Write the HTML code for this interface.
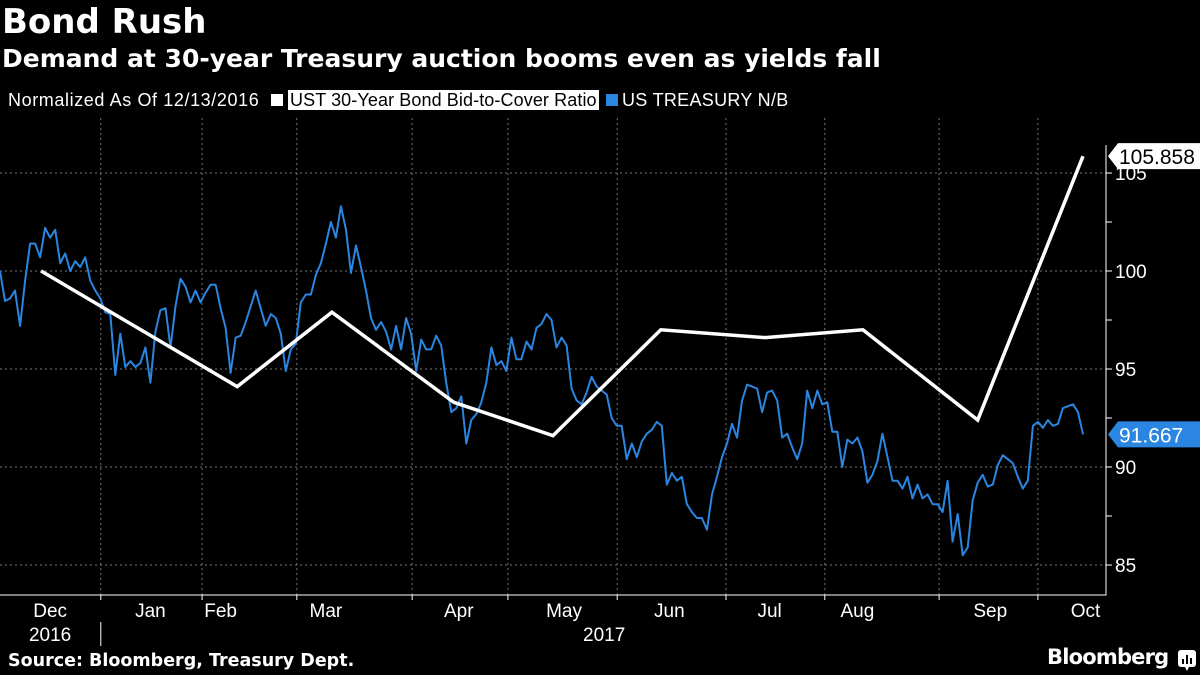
<!DOCTYPE html>
<html><head><meta charset="utf-8"><style>
html,body{margin:0;padding:0;background:#000;}
body{width:1200px;height:675px;overflow:hidden;position:relative;font-family:"Liberation Sans",sans-serif;color:#fff;}
.t{position:absolute;white-space:nowrap;}
</style></head><body>
<div class="t" style="left:2px;top:2px;font:bold 34px 'DejaVu Sans',sans-serif;">Bond Rush</div>
<div class="t" style="left:2px;top:44px;font:bold 25px 'DejaVu Sans',sans-serif;">Demand at 30-year Treasury auction booms even as yields fall</div>
<div class="t" style="left:8px;top:90px;font-size:18px;letter-spacing:0.6px;">Normalized As Of 12/13/2016</div>
<div class="t" style="left:271px;top:90px;font-size:18px;letter-spacing:0.1px;"><span style="display:inline-block;width:12px;height:12px;background:#fff;margin-right:5px;"></span><span style="background:#fff;color:#000;padding:0 2px;">UST 30-Year Bond Bid-to-Cover Ratio</span></div>
<div class="t" style="left:606px;top:90px;font-size:18px;letter-spacing:0.3px;"><span style="display:inline-block;width:12px;height:12px;background:#2a86e0;margin-right:4px;"></span>US TREASURY N/B</div>
<svg id="chart" width="1200" height="675" style="position:absolute;left:0;top:0;"></svg>
<div class="t" style="left:8px;top:651px;font:bold 17.5px 'DejaVu Sans',sans-serif;">Source: Bloomberg, Treasury Dept.</div>
<div class="t" style="left:1047px;top:645px;font:bold 21px 'DejaVu Sans',sans-serif;letter-spacing:-0.8px;">Bloomberg</div>
<svg width="20" height="24" style="position:absolute;left:1178px;top:650px;"><rect x="0" y="0" width="18" height="17" rx="3" fill="#fff"/><path d="M7 17 L9 21 L11 17Z" fill="#fff"/><rect x="4" y="9" width="2" height="5" fill="#000"/><rect x="8" y="5" width="2" height="9" fill="#000"/><rect x="12" y="8" width="2" height="6" fill="#000"/></svg>
<script>
const blueValues=[100.0,98.47,98.6,99.0,97.2,99.5,101.4,101.4,100.7,102.2,101.7,102.1,100.4,100.9,100.0,100.5,100.2,100.7,99.5,99.0,
98.6,97.9,97.8,94.7,96.8,95.1,95.4,95.1,95.3,96.1,94.3,96.9,98.0,98.1,96.1,98.2,99.6,99.2,98.4,99.0,
98.4,98.9,99.3,99.3,98.1,97.1,94.8,96.6,96.7,97.4,98.2,99.0,98.1,97.2,97.8,97.6,96.8,94.9,96.0,96.3,
98.4,98.8,98.8,99.8,100.4,101.4,102.5,101.7,103.3,102.1,99.9,101.3,100.2,99.0,97.6,97.0,97.4,96.9,96.0,97.2,
96.0,97.6,96.8,94.9,96.5,96.0,96.0,96.7,96.2,94.3,92.8,93.0,93.6,91.2,92.4,92.7,93.3,94.3,96.1,95.2,
95.4,94.9,96.6,95.5,95.5,96.4,96.0,97.1,97.3,97.8,97.5,96.1,96.6,96.2,94.0,93.4,93.2,93.8,94.6,94.1,
93.9,93.7,92.5,92.1,92.1,90.4,91.2,90.5,91.3,91.7,91.9,92.3,92.1,89.1,89.7,89.3,89.5,88.1,87.7,87.4,
87.4,86.8,88.6,89.5,90.5,91.2,92.2,91.5,93.4,94.2,94.1,94.0,92.8,93.8,93.9,93.4,91.5,91.7,91.0,90.4,
91.2,93.9,93.0,93.9,93.2,93.3,91.8,91.8,90.0,91.4,91.2,91.5,90.8,89.2,89.6,90.3,91.7,90.5,89.3,89.3,
88.9,89.5,88.4,89.1,88.4,88.6,88.1,88.1,87.7,89.3,86.2,87.6,85.5,85.9,88.3,89.2,89.6,89.0,89.1,90.1,
90.6,90.4,90.2,89.5,88.9,89.3,92.1,92.3,92.0,92.4,92.1,92.2,93.0,93.1,93.2,92.8,91.667];
const whiteDays=[8.2,47.3,66.2,90.5,110.3,131.8,152.6,172.1,195,216];
const whiteValues=[100,94.1,97.9,93.3,91.6,97.0,96.6,97.0,92.4,105.858];
const yTicks=[85,90,95,100,105];
const yMinorTicks=[85,87.5,90,92.5,95,97.5,100,102.5,105];
const monthBoundaryDays=[20.1,40.3,59.2,82.2,101.3,123.1,144.8,164.5,187.3,207.0];
const monthLabels=["Dec","Jan","Feb","Mar","Apr","May","Jun","Jul","Aug","Sep","Oct"];
const monthLabelDays=[10,30,44,65,91.5,112.5,133.5,153.5,171,197.5,216.5];
const yearLabels=["2016","2017"];
const yearLabelDays=[10,120.5];

const NS="http://www.w3.org/2000/svg";
const svg=document.getElementById('chart');
const plotR=1106,plotTop=118,plotBot=595;
const maxDay=216;
function x(d){return d*1083/maxDay;}
function y(v){return 271-(v-100)*19.6;}
function mk(tag,attrs,parent){const e=document.createElementNS(NS,tag);for(const k in attrs)e.setAttribute(k,attrs[k]);(parent||svg).appendChild(e);return e;}

yTicks.forEach(v=>{
  const g=mk('line',{x1:0,x2:plotR,y1:y(v),y2:y(v),stroke:'#777','stroke-width':1,'stroke-dasharray':'2,3'});
  
  
  const t=mk('text',{x:1115,y:y(v)+7,fill:'#fff','font-size':'19','font-family':'Liberation Sans, sans-serif'});
  t.textContent=v;
  
  
});
yMinorTicks.forEach(v=>{
  const tk=mk('line',{x1:plotR,x2:plotR+6,y1:y(v),y2:y(v),stroke:'#fff','stroke-width':1});
  
  
});
monthBoundaryDays.forEach(d=>{
  const g=mk('line',{x1:x(d),x2:x(d),y1:plotTop,y2:plotBot,stroke:'#777','stroke-width':1,'stroke-dasharray':'2,3'});
  
  
  const tk=mk('line',{x1:x(d),x2:x(d),y1:plotBot,y2:plotBot+5,stroke:'#fff','stroke-width':1});
  
  
});
const ax=mk('path',{d:`M0 ${plotBot} H${plotR} V145`,stroke:'#fff','stroke-width':1,fill:'none'});


const div=mk('line',{x1:x(monthBoundaryDays[0]),x2:x(monthBoundaryDays[0]),y1:622,y2:646,stroke:'#fff','stroke-width':1});


monthLabels.forEach((m,i)=>{
  const t=mk('text',{x:x(monthLabelDays[i]),y:617,fill:'#fff','font-size':'19','text-anchor':'middle','font-family':'Liberation Sans, sans-serif'});
  t.textContent=m;
  
  
});
yearLabels.forEach((m,i)=>{
  const t=mk('text',{x:x(yearLabelDays[i]),y:641,fill:'#fff','font-size':'19','text-anchor':'middle','font-family':'Liberation Sans, sans-serif'});
  t.textContent=m;
  
  
});
const bl=mk('polyline',{points:blueValues.map((v,i)=>x(i).toFixed(1)+','+y(v).toFixed(1)).join(' '),fill:'none',stroke:'#2a86e0','stroke-width':2,'stroke-linejoin':'round'});


const wl=mk('polyline',{points:whiteValues.map((v,i)=>x(whiteDays[i]).toFixed(1)+','+y(v).toFixed(1)).join(' '),fill:'none',stroke:'#fff','stroke-width':3.5,'stroke-linejoin':'miter'});


function tag(v,bg,fg,name){
  const yy=y(v);
  const p=mk('path',{d:`M1108 ${yy} L1118 ${yy-13} H1200 V${yy+13} H1118 Z`,fill:bg});
  
  
  const t=mk('text',{x:1119,y:yy+8,fill:fg,'font-size':'21','font-family':'Liberation Sans, sans-serif'});
  t.textContent=v.toFixed(3);
  
  
}
tag(whiteValues[whiteValues.length-1],'#fff','#000','bid-to-cover-last-value');
tag(blueValues[blueValues.length-1],'#2a86e0','#fff','us-treasury-last-value');
</script>
</body></html>
